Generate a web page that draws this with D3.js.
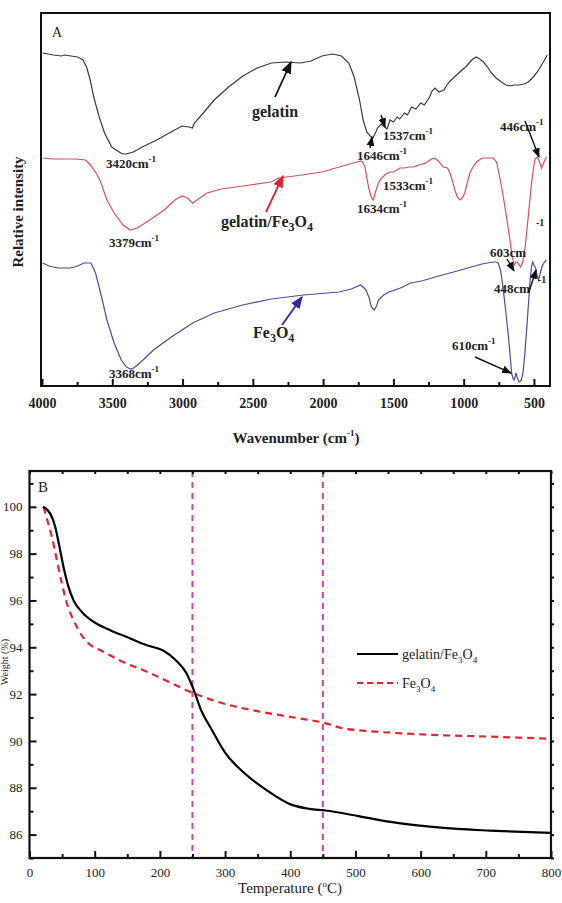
<!DOCTYPE html>
<html>
<head>
<meta charset="utf-8">
<script src="https://cdn.jsdelivr.net/npm/d3@7"></script>
<style>
  html, body { margin: 0; padding: 0; background: #fff; }
  svg { display: block; }
  text { font-family: "Liberation Serif", "DejaVu Serif", serif; fill: #222; }
</style>
</head>
<body>
<script>
// ---------------- DATA ----------------
// Panel A: FTIR spectra, [wavenumber (cm-1), relative intensity (arbitrary units)]
const gelatinIR = [
  [3995,333],[3920,331],[3861,330],[3840,331],[3746,329],[3708,326],[3683,319],[3657,306],[3632,289],
  [3593,269],[3555,253],[3504,239],[3440,233],[3420,232],[3401,232],[3350,234],[3287,239],[3184,246],
  [3082,254],[3005,260],[2954,259],[2930,258],[2916,263],[2852,273],[2775,286],[2673,299],[2571,310],
  [2469,318],[2367,323],[2265,324],[2162,323],[2086,325],[2009,330],[1932,332],[1869,330],[1817,323],
  [1779,309],[1741,286],[1715,266],[1690,254],[1665,250],[1646,248],[1625,254],[1613,258],[1588,262],
  [1562,259],[1545,257],[1524,266],[1500,264],[1473,269],[1455,267],[1421,273],[1400,271],[1370,279],
  [1340,277],[1306,283],[1280,281],[1242,289],[1225,295],[1204,298],[1175,294],[1140,296],[1115,302],
  [1089,306],[1050,311],[1012,316],[985,319],[961,323],[935,327],[910,329],[885,327],[859,324],
  [830,319],[808,314],[770,308],[731,304],[700,301],[668,300],[640,301],[604,301],[570,302],
  [540,304],[505,309],[476,314],[450,320],[425,326],[405,331]
];
const compositeIR = [
  [3995,228],[3920,227],[3850,227],[3760,227],[3690,226],[3650,220],[3620,214],[3588,206],[3538,186],
  [3487,173],[3423,161],[3372,156],[3322,158],[3233,166],[3131,176],[3055,186],[3004,190],[2966,188],
  [2928,183],[2877,188],[2826,193],[2724,197],[2620,199],[2521,201],[2369,204],[2316,208],[2150,211],
  [2009,214],[1860,220],[1760,224],[1728,225],[1715,223],[1702,219],[1677,199],[1660,190],[1644,186],
  [1625,195],[1606,203],[1590,207],[1575,209],[1555,212],[1536,213],[1525,214],[1498,214],[1454,218],
  [1421,218],[1390,219],[1359,219],[1320,221],[1268,223],[1240,226],[1210,228],[1180,225],[1146,219],
  [1115,218],[1098,213],[1080,205],[1063,196],[1045,189],[1027,186],[1010,188],[992,193],[975,203],
  [956,213],[930,220],[908,224],[880,227],[861,228],[820,228],[790,228],[766,224],[748,212],
  [730,199],[712,184],[695,169],[671,146],[655,130],[640,121],[630,124],[620,124],[605,121],
  [595,119],[580,124],[565,136],[553,152],[541,169],[529,186],[517,203],[505,216],[494,226],
  [477,229],[465,226],[458,223],[446,218],[434,222],[422,226],[410,229]
];
const fe3o4IR = [
  [3995,123],[3950,120],[3919,119],[3880,118],[3842,118],[3800,118],[3766,119],[3730,121],[3703,123],
  [3670,123],[3652,123],[3635,118],[3619,113],[3576,89],[3538,66],[3487,43],[3436,26],[3400,19],
  [3368,17],[3347,18],[3296,24],[3207,36],[3080,49],[2928,63],[2775,73],[2572,81],[2369,87],
  [2140,91],[1886,94],[1800,97],[1733,101],[1715,99],[1695,96],[1672,88],[1657,79],[1637,76],
  [1620,80],[1606,86],[1570,91],[1530,94],[1450,98],[1378,103],[1300,105],[1251,107],[1180,110],
  [1098,113],[1020,116],[946,119],[870,122],[793,124],[770,124],[755,123],[742,118],[730,109],
  [717,95],[704,79],[691,62],[679,46],[668,28],[659,13],[650,8],[641,6],[634,9],[628,13],
  [618,8],[610,5],[603,4],[590,6],[578,13],[565,32],[552,56],[540,80],[527,106],[517,120],
  [509,124],[500,121],[488,118],[478,111],[468,106],[460,110],[450,116],[438,121],[425,124],[412,126]
];
const irTicks = [4000, 3500, 3000, 2500, 2000, 1500, 1000, 500];
const irMinorTicks = [3750, 3250, 2750, 2250, 1750, 1250, 750];

// Panel B: TGA curves, [temperature (°C), weight (%)]
const compositeTGA = [
  [20.5,100.0],[31.7,99.72],[39.4,99.15],[46,98.29],[52.1,97.44],[59.8,96.58],[67.5,96.01],
  [80.3,95.51],[98.2,95.09],[123.8,94.73],[149.4,94.44],[180,94.09],[205,93.86],[224,93.46],
  [240.8,92.89],[251.9,92.18],[263,91.33],[279.6,90.48],[300.6,89.48],[329.4,88.63],[362.6,87.92],
  [401.4,87.28],[429,87.10],[454,87.03],[506.5,86.78],[556.4,86.53],[606.2,86.36],[656,86.24],
  [705.8,86.17],[800,86.07]
];
const fe3o4TGA = [
  [21.5,100.0],[26.6,99.50],[34.3,98.72],[42,97.72],[49.6,96.73],[57.4,95.87],[67.5,95.16],
  [82.8,94.40],[97,94.03],[108.4,93.88],[137,93.46],[185.5,92.89],[251.9,92.04],[296.2,91.61],
  [351.5,91.26],[412.4,90.97],[454,90.76],[478.9,90.55],[506.5,90.45],[561.9,90.34],[617.3,90.26],
  [700.3,90.19],[800,90.09]
];
const tgaMarkers = [250, 450];
const tgaXTicks = [0, 100, 200, 300, 400, 500, 600, 700, 800];
const tgaXMinor = [50, 150, 250, 350, 450, 550, 650, 750];
const tgaYTicks = [86, 88, 90, 92, 94, 96, 98, 100];
const tgaYMinor = [85, 87, 89, 91, 93, 95, 97, 99, 101];

// ---------------- DRAWING ----------------
const W = 562, H = 903;
const svg = d3.select("body").append("svg").attr("width", W).attr("height", H);
svg.append("rect").attr("width", W).attr("height", H).attr("fill", "#fff");

const defs = svg.append("defs");
function marker(id, color) {
  defs.append("marker").attr("id", id).attr("viewBox", "0 0 10 10").attr("refX", 9).attr("refY", 5)
    .attr("markerWidth", 7).attr("markerHeight", 7).attr("orient", "auto-start-reverse")
    .append("path").attr("d", "M0,1 L10,5 L0,9 Z").attr("fill", color);
}
marker("arrBlack", "#111");
marker("arrRed", "#e0242a");
marker("arrBlue", "#2a2aa8");

// ===== Panel A =====
const A = { left: 41, right: 550, top: 13, bottom: 386 };
const xA = d3.scaleLinear().domain([4000, 400]).range([42, 548]);
const yA = d3.scaleLinear().domain([0, 373]).range([A.bottom, A.top]);
const lineA = d3.line().x(d => xA(d[0])).y(d => yA(d[1]));

const gA = svg.append("g");
gA.append("path").datum(gelatinIR).attr("d", lineA).attr("fill", "none").attr("stroke", "#3a3a3a").attr("stroke-width", 1.2);
gA.append("path").datum(compositeIR).attr("d", lineA).attr("fill", "none").attr("stroke", "#d9505a").attr("stroke-width", 1.2);
gA.append("path").datum(fe3o4IR).attr("d", lineA).attr("fill", "none").attr("stroke", "#4a4aa8").attr("stroke-width", 1.2);

// axis ticks (inward)
const axA = gA.append("g").attr("transform", `translate(0,${A.bottom})`)
  .call(d3.axisBottom(xA).tickValues(irTicks).tickSize(-7).tickPadding(12).tickFormat(d3.format("d")));
axA.select(".domain").remove();
axA.selectAll("line").attr("stroke", "#111").attr("stroke-width", 2);
axA.selectAll("text").attr("font-size", 14).attr("font-weight", "bold").attr("fill", "#222")
  .style("font-family", '"Liberation Serif", serif');
const axAm = gA.append("g").attr("transform", `translate(0,${A.bottom})`)
  .call(d3.axisBottom(xA).tickValues(irMinorTicks).tickSize(-4).tickFormat(""));
axAm.select(".domain").remove();
axAm.selectAll("line").attr("stroke", "#111").attr("stroke-width", 2);

gA.append("rect").attr("x", A.left).attr("y", A.top).attr("width", A.right - A.left).attr("height", A.bottom - A.top)
  .attr("fill", "none").attr("stroke", "#111").attr("stroke-width", 2);

gA.append("text").attr("x", 52).attr("y", 37).attr("font-size", 14).text("A");

// axis titles
const tA = gA.append("text").attr("x", 296).attr("y", 443).attr("text-anchor", "middle").attr("font-size", 15).attr("font-weight", "bold");
tA.append("tspan").text("Wavenumber (cm");
tA.append("tspan").attr("font-size", 9).attr("dy", -7).text("-1");
tA.append("tspan").attr("dy", 7).text(")");
gA.append("text").attr("transform", "translate(23,212) rotate(-90)").attr("text-anchor", "middle")
  .attr("font-size", 15).attr("font-weight", "bold").text("Relative intensity");

// annotations
function wn(x, y, num, opts = {}) {
  const t = gA.append("text").attr("x", x).attr("y", y).attr("font-size", opts.size || 13).attr("font-weight", "bold").attr("fill", "#333");
  t.append("tspan").text(num + "cm");
  if (!opts.noSup) t.append("tspan").attr("font-size", 9).attr("dy", -6).text("-1");
  return t;
}
function arrow(x1, y1, x2, y2, id, color, w) {
  gA.append("line").attr("x1", x1).attr("y1", y1).attr("x2", x2).attr("y2", y2)
    .attr("stroke", color).attr("stroke-width", w || 1.6).attr("marker-end", `url(#${id})`);
}
wn(106, 168, "3420");
wn(383, 140, "1537");
wn(357, 160, "1646");
wn(500, 131, "446");
wn(383, 190, "1533");
wn(357, 213, "1634");
wn(109, 247, "3379");
wn(490, 257, "603", { noSup: true });
gA.append("text").attr("x", 536).attr("y", 226).attr("font-size", 10).attr("font-weight", "bold").attr("fill", "#333").text("-1");
wn(494, 293, "448", { noSup: true });
gA.append("text").attr("x", 538).attr("y", 283).attr("font-size", 10).attr("font-weight", "bold").attr("fill", "#333").text("-1");
wn(452, 350, "610");
wn(109, 378, "3368");

arrow(275, 97, 291, 62, "arrBlack", "#111", 1.8);
arrow(381, 115, 385, 127, "arrBlack", "#111", 1.4);
arrow(370, 148, 372, 137, "arrBlack", "#111", 1.4);
arrow(525, 121, 539, 157, "arrBlack", "#111", 1.4);
arrow(507, 259, 514, 271, "arrBlack", "#111", 1.4);
arrow(529, 292, 536, 270, "arrBlack", "#111", 1.4);
arrow(475, 357, 511, 373, "arrBlack", "#111", 1.4);
arrow(266, 212, 283, 176, "arrRed", "#e0242a", 1.8);
arrow(282, 325, 302, 297, "arrBlue", "#2a2aa8", 1.8);

gA.append("text").attr("x", 275).attr("y", 117).attr("text-anchor", "middle").attr("font-size", 16).attr("font-weight", "bold").attr("fill", "#333").text("gelatin");
const gf = gA.append("text").attr("x", 221).attr("y", 227).attr("font-size", 16).attr("font-weight", "bold").attr("fill", "#333");
gf.append("tspan").text("gelatin/Fe");
gf.append("tspan").attr("font-size", 12).attr("dy", 4).text("3");
gf.append("tspan").attr("dy", -4).text("O");
gf.append("tspan").attr("font-size", 12).attr("dy", 4).text("4");
const ff = gA.append("text").attr("x", 253).attr("y", 338).attr("font-size", 16).attr("font-weight", "bold").attr("fill", "#333");
ff.append("tspan").text("Fe");
ff.append("tspan").attr("font-size", 12).attr("dy", 4).text("3");
ff.append("tspan").attr("dy", -4).text("O");
ff.append("tspan").attr("font-size", 12).attr("dy", 4).text("4");

// ===== Panel B =====
const B = { left: 29.5, right: 551, top: 471, bottom: 858 };
const xB = d3.scaleLinear().domain([0, 800]).range([B.left, B.right]);
const yB = d3.scaleLinear().domain([85, 101.53]).range([B.bottom, B.top]);
const lineB = d3.line().x(d => xB(d[0])).y(d => yB(d[1])).curve(d3.curveMonotoneX);
const gB = svg.append("g");

gB.selectAll(".mark").data(tgaMarkers).join("line")
  .attr("x1", d => xB(d)).attr("x2", d => xB(d)).attr("y1", B.top).attr("y2", B.bottom)
  .attr("stroke", "#c445b8").attr("stroke-width", 2).attr("stroke-dasharray", "6,5");

gB.append("path").datum(fe3o4TGA).attr("d", lineB).attr("fill", "none").attr("stroke", "#f0202a")
  .attr("stroke-width", 2.2).attr("stroke-dasharray", "7,5");
gB.append("path").datum(compositeTGA).attr("d", lineB).attr("fill", "none").attr("stroke", "#000").attr("stroke-width", 2.2);

function styleAxis(g, size) {
  g.select(".domain").remove();
  g.selectAll("line").attr("stroke", "#111").attr("stroke-width", 2);
  g.selectAll("text").attr("font-size", size).attr("fill", "#333").style("font-family", '"Liberation Serif", serif');
}
styleAxis(gB.append("g").attr("transform", `translate(0,${B.bottom})`)
  .call(d3.axisBottom(xB).tickValues(tgaXTicks).tickSize(-7).tickPadding(10).tickFormat(d3.format("d"))), 13);
styleAxis(gB.append("g").attr("transform", `translate(0,${B.bottom})`)
  .call(d3.axisBottom(xB).tickValues(tgaXMinor).tickSize(-4).tickFormat("")), 13);
styleAxis(gB.append("g").attr("transform", `translate(${B.left},0)`)
  .call(d3.axisLeft(yB).tickValues(tgaYTicks).tickSize(-7).tickPadding(7).tickFormat(d3.format("d"))), 13);
styleAxis(gB.append("g").attr("transform", `translate(${B.left},0)`)
  .call(d3.axisLeft(yB).tickValues(tgaYMinor).tickSize(-4).tickFormat("")), 13);
styleAxis(gB.append("g").attr("transform", `translate(${B.right},0)`)
  .call(d3.axisRight(yB).tickValues(tgaYMinor.concat(tgaYTicks)).tickSize(3).tickFormat("")), 13);
styleAxis(gB.append("g").attr("transform", `translate(0,${B.top})`)
  .call(d3.axisTop(xB).tickValues(tgaXMinor.concat(tgaXTicks)).tickSize(-3).tickFormat("")), 13);

gB.append("rect").attr("x", B.left).attr("y", B.top).attr("width", B.right - B.left).attr("height", B.bottom - B.top)
  .attr("fill", "none").attr("stroke", "#111").attr("stroke-width", 2.2);

gB.append("text").attr("x", 38).attr("y", 492).attr("font-size", 15).text("B");

const tB = gB.append("text").attr("x", 290).attr("y", 893).attr("text-anchor", "middle").attr("font-size", 15);
tB.append("tspan").text("Temperature (");
tB.append("tspan").attr("font-size", 9).attr("dy", -6).text("o");
tB.append("tspan").attr("dy", 6).text("C)");
gB.append("text").attr("transform", "translate(8,662) rotate(-90)").attr("text-anchor", "middle")
  .attr("font-size", 10).attr("fill", "#8a9aa6").text("Weight (%)");

// legend
const leg = gB.append("g");
leg.append("line").attr("x1", 357).attr("x2", 398).attr("y1", 654).attr("y2", 654).attr("stroke", "#000").attr("stroke-width", 2.2);
leg.append("line").attr("x1", 357).attr("x2", 398).attr("y1", 683).attr("y2", 683).attr("stroke", "#f0202a").attr("stroke-width", 2.2).attr("stroke-dasharray", "6,4");
const l1 = leg.append("text").attr("x", 402).attr("y", 659).attr("font-size", 14);
l1.append("tspan").text("gelatin/Fe");
l1.append("tspan").attr("font-size", 9).attr("dy", 4).text("3");
l1.append("tspan").attr("dy", -4).text("O");
l1.append("tspan").attr("font-size", 9).attr("dy", 4).text("4");
const l2 = leg.append("text").attr("x", 402).attr("y", 688).attr("font-size", 14);
l2.append("tspan").text("Fe");
l2.append("tspan").attr("font-size", 9).attr("dy", 4).text("3");
l2.append("tspan").attr("dy", -4).text("O");
l2.append("tspan").attr("font-size", 9).attr("dy", 4).text("4");
</script>
</body>
</html>
